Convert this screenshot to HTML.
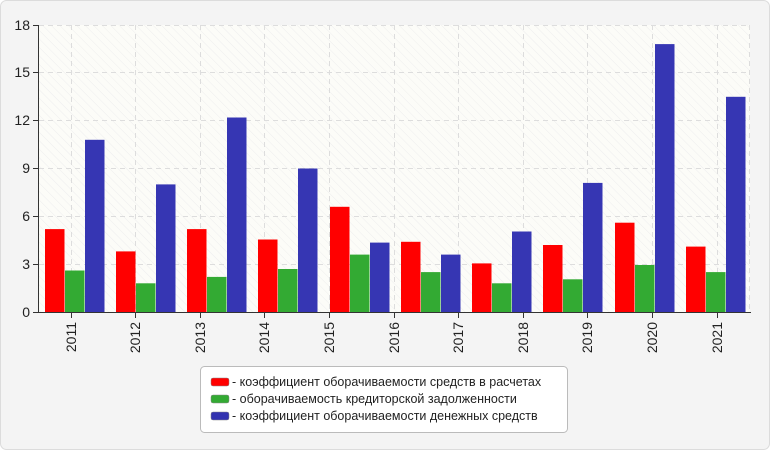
<!DOCTYPE html>
<html><head><meta charset="utf-8"><style>
html,body{margin:0;padding:0;background:#fff;}
svg{display:block;font-family:"Liberation Sans",sans-serif;}
</style></head><body>
<svg width="770" height="450" viewBox="0 0 770 450" xmlns="http://www.w3.org/2000/svg">
<defs>
<pattern id="h" width="6" height="6" patternUnits="userSpaceOnUse" patternTransform="rotate(-45)">
<rect width="6" height="6" fill="#fcfcf8"/><line x1="0" y1="0" x2="0" y2="6" stroke="#eeeeee" stroke-width="1"/>
</pattern>
</defs>
<rect x="0.5" y="0.5" width="769" height="449" rx="6" fill="#f4f4f4" stroke="#dcdcdc"/>
<rect x="39" y="25" width="711" height="287" fill="url(#h)"/>
<g stroke="#dddddd" stroke-dasharray="5,4" fill="none">
<line x1="39" y1="264.5" x2="750" y2="264.5"/><line x1="39" y1="216.5" x2="750" y2="216.5"/>
<line x1="39" y1="168.5" x2="750" y2="168.5"/><line x1="39" y1="120.5" x2="750" y2="120.5"/>
<line x1="39" y1="72.5" x2="750" y2="72.5"/><line x1="39" y1="25.5" x2="750" y2="25.5"/>
<line x1="71.5" y1="25" x2="71.5" y2="312"/><line x1="135.5" y1="25" x2="135.5" y2="312"/>
<line x1="200.5" y1="25" x2="200.5" y2="312"/><line x1="264.5" y1="25" x2="264.5" y2="312"/>
<line x1="329.5" y1="25" x2="329.5" y2="312"/><line x1="394.5" y1="25" x2="394.5" y2="312"/>
<line x1="458.5" y1="25" x2="458.5" y2="312"/><line x1="523.5" y1="25" x2="523.5" y2="312"/>
<line x1="587.5" y1="25" x2="587.5" y2="312"/><line x1="652.5" y1="25" x2="652.5" y2="312"/>
<line x1="717.5" y1="25" x2="717.5" y2="312"/><line x1="749.5" y1="25" x2="749.5" y2="312"/>
</g>
<g fill="#ff0000">
<rect x="45" y="229.1" width="19.5" height="82.9"/>
<rect x="116" y="251.4" width="19.5" height="60.6"/>
<rect x="187" y="229.1" width="19.5" height="82.9"/>
<rect x="258" y="239.5" width="19.5" height="72.5"/>
<rect x="330" y="206.8" width="19.5" height="105.2"/>
<rect x="401" y="241.8" width="19.5" height="70.2"/>
<rect x="472" y="263.4" width="19.5" height="48.6"/>
<rect x="543" y="245" width="19.5" height="67"/>
<rect x="615" y="222.7" width="19.5" height="89.3"/>
<rect x="686" y="246.6" width="19.5" height="65.4"/>
</g>
<g fill="#33aa33">
<rect x="65" y="270.5" width="19.5" height="41.5"/>
<rect x="136" y="283.3" width="19.5" height="28.7"/>
<rect x="207" y="276.9" width="19.5" height="35.1"/>
<rect x="278" y="269" width="19.5" height="43"/>
<rect x="350" y="254.6" width="19.5" height="57.4"/>
<rect x="421" y="272.1" width="19.5" height="39.9"/>
<rect x="492" y="283.3" width="19.5" height="28.7"/>
<rect x="563" y="279.3" width="19.5" height="32.7"/>
<rect x="635" y="265" width="19.5" height="47"/>
<rect x="706" y="272.1" width="19.5" height="39.9"/>
</g>
<g fill="#3636b3">
<rect x="85" y="139.8" width="19.5" height="172.2"/>
<rect x="156" y="184.4" width="19.5" height="127.6"/>
<rect x="227" y="117.5" width="19.5" height="194.5"/>
<rect x="298" y="168.5" width="19.5" height="143.5"/>
<rect x="370" y="242.6" width="19.5" height="69.4"/>
<rect x="441" y="254.6" width="19.5" height="57.4"/>
<rect x="512" y="231.5" width="19.5" height="80.5"/>
<rect x="583" y="182.9" width="19.5" height="129.1"/>
<rect x="655" y="44.1" width="19.5" height="267.9"/>
<rect x="726" y="96.8" width="19.5" height="215.2"/>
</g>
<g stroke="#333" fill="none">
<line x1="38.5" y1="25" x2="38.5" y2="312"/><line x1="38" y1="312.5" x2="751" y2="312.5"/>
<line x1="33" y1="25.5" x2="39" y2="25.5"/><line x1="33" y1="72.5" x2="39" y2="72.5"/>
<line x1="33" y1="120.5" x2="39" y2="120.5"/><line x1="33" y1="168.5" x2="39" y2="168.5"/>
<line x1="33" y1="216.5" x2="39" y2="216.5"/><line x1="33" y1="264.5" x2="39" y2="264.5"/>
<line x1="33" y1="312.5" x2="39" y2="312.5"/>
<line x1="71.5" y1="312" x2="71.5" y2="318"/><line x1="135.5" y1="312" x2="135.5" y2="318"/>
<line x1="200.5" y1="312" x2="200.5" y2="318"/><line x1="264.5" y1="312" x2="264.5" y2="318"/>
<line x1="329.5" y1="312" x2="329.5" y2="318"/><line x1="394.5" y1="312" x2="394.5" y2="318"/>
<line x1="458.5" y1="312" x2="458.5" y2="318"/><line x1="523.5" y1="312" x2="523.5" y2="318"/>
<line x1="587.5" y1="312" x2="587.5" y2="318"/><line x1="652.5" y1="312" x2="652.5" y2="318"/>
<line x1="717.5" y1="312" x2="717.5" y2="318"/>
</g>
<g font-size="14" fill="#222" text-anchor="end">
<text x="30" y="30">18</text><text x="30" y="77">15</text><text x="30" y="125">12</text>
<text x="30" y="173">9</text><text x="30" y="221">6</text><text x="30" y="269">3</text><text x="30" y="317">0</text>
</g>
<g font-size="14" fill="#222" text-anchor="end">
<text transform="translate(76,322) rotate(-90)">2011</text>
<text transform="translate(140,322) rotate(-90)">2012</text>
<text transform="translate(205,322) rotate(-90)">2013</text>
<text transform="translate(269,322) rotate(-90)">2014</text>
<text transform="translate(334,322) rotate(-90)">2015</text>
<text transform="translate(399,322) rotate(-90)">2016</text>
<text transform="translate(463,322) rotate(-90)">2017</text>
<text transform="translate(528,322) rotate(-90)">2018</text>
<text transform="translate(592,322) rotate(-90)">2019</text>
<text transform="translate(657,322) rotate(-90)">2020</text>
<text transform="translate(722,322) rotate(-90)">2021</text>
</g>
<rect x="200.5" y="366.5" width="367" height="66" rx="4" fill="#fff" stroke="#bbb"/>
<rect x="211" y="378" width="18" height="8" rx="2" fill="#ff0000" stroke="#888" stroke-width="0.5"/>
<rect x="211" y="395" width="18" height="8" rx="2" fill="#33aa33" stroke="#888" stroke-width="0.5"/>
<rect x="211" y="412" width="18" height="8" rx="2" fill="#3333b0" stroke="#888" stroke-width="0.5"/>
<g font-size="12.5" fill="#222">
<text x="232" y="386">- коэффициент оборачиваемости средств в расчетах</text>
<text x="232" y="403">- оборачиваемость кредиторской задолженности</text>
<text x="232" y="420">- коэффициент оборачиваемости денежных средств</text>
</g>
</svg>
</body></html>
